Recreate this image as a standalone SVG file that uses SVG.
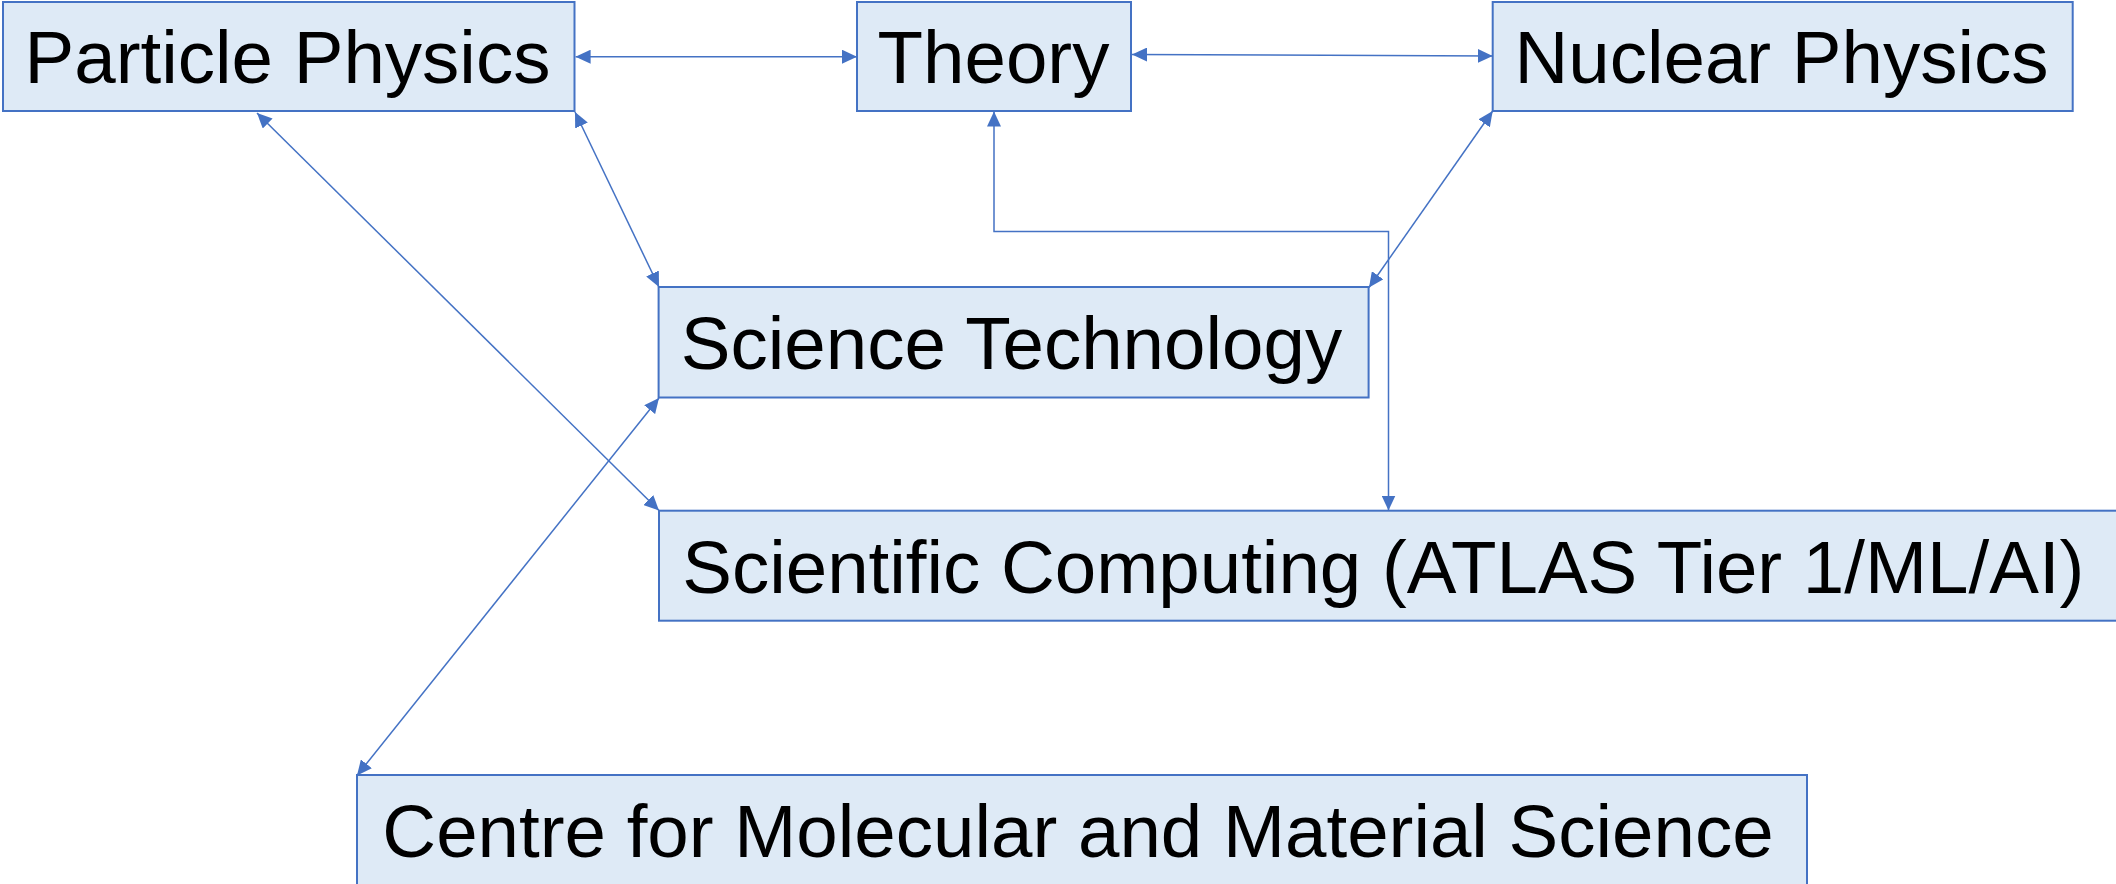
<svg xmlns="http://www.w3.org/2000/svg" width="2116" height="884" viewBox="0 0 2116 884">
  <style>
    .box { fill: #DEEAF6; stroke: #4472C4; stroke-width: 2; }
    .lbl { font-family: "Liberation Sans", Arial, sans-serif; font-size: 74.5px; fill: #000; text-anchor: middle; }
    .conn { fill: none; stroke: #4472C4; stroke-width: 1.5; marker-start: url(#arrow); marker-end: url(#arrow); }
  </style>
  <defs>
    <marker id="arrow" markerUnits="userSpaceOnUse" markerWidth="15" markerHeight="14" refX="15" refY="7" orient="auto-start-reverse" viewBox="0 0 15 14">
      <path d="M0,0 L15,7 L0,14 z" fill="#4472C4"/>
    </marker>
  </defs>
  <rect width="2116" height="884" fill="#FFFFFF"/>

  <g id="node-particle-physics">
    <rect class="box" x="3" y="2" width="571.5" height="109"/>
    <text class="lbl" x="287.5" y="82.7">Particle Physics</text>
  </g>
  <g id="node-theory">
    <rect class="box" x="857" y="2" width="274" height="109"/>
    <text class="lbl" x="993.5" y="82.7">Theory</text>
  </g>
  <g id="node-nuclear-physics">
    <rect class="box" x="1492.7" y="2" width="580" height="109"/>
    <text class="lbl" x="1781.5" y="82.7">Nuclear Physics</text>
  </g>
  <g id="node-science-technology">
    <rect class="box" x="658.6" y="287" width="710" height="110.5"/>
    <text class="lbl" x="1011.5" y="369">Science Technology</text>
  </g>
  <g id="node-scientific-computing">
    <rect class="box" x="659" y="510.7" width="1470" height="110"/>
    <text class="lbl" x="1383.3" y="592.5">Scientific Computing (ATLAS Tier 1/ML/AI)</text>
  </g>
  <g id="node-cmms">
    <rect class="box" x="357" y="775" width="1450" height="125"/>
    <text class="lbl" x="1078" y="856.7">Centre for Molecular and Material Science</text>
  </g>

  <g id="connectors">
    <path class="conn" d="M575.6,56.7 L857,56.7"/>
    <path class="conn" d="M1132,54.5 L1492.7,56"/>
    <path class="conn" d="M575,112 L659,287"/>
    <path class="conn" d="M257,113 L659,510.5"/>
    <path class="conn" d="M659,398 L357,775.5"/>
    <path class="conn" d="M1492.7,111 L1369,287.5"/>
    <path class="conn" d="M994,111.5 V231.5 H1388.5 V510.5"/>
  </g>
</svg>
